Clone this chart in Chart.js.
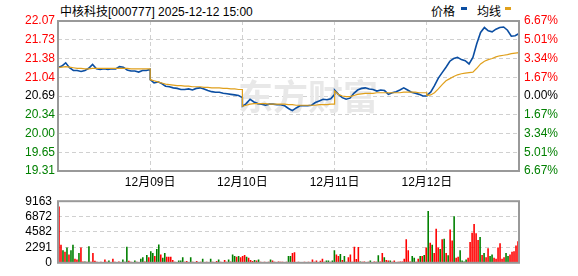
<!DOCTYPE html>
<html>
<head>
<meta charset="utf-8">
<script src="https://cdn.jsdelivr.net/npm/chart.js@4.4.1/dist/chart.umd.min.js"></script>
<style>
  body { margin: 0; background: #fff; width: 578px; height: 276px; position: relative; overflow: hidden;
         font-family: "Liberation Sans", Arial, "Noto Sans CJK SC", sans-serif; font-size: 12px; color: #000; }
  #title { position: absolute; left: 60px; top: 2px; white-space: nowrap; }
  .lg { position: absolute; top: 2px; white-space: nowrap; }
  .sw { position: absolute; top: 7px; width: 6px; height: 3px; }
  canvas { position: absolute; left: 0; }
  #priceChart { top: 0; }
  #volChart { top: 188px; }
</style>
</head>
<body>
<div id="title">中核科技[000777] 2025-12-12 15:00</div>
<div class="lg" style="left:431px">价格</div>
<div class="sw" style="left:461px;background:#0b4ea2"></div>
<div class="lg" style="left:477px">均线</div>
<div class="sw" style="left:505px;background:#e0a01c"></div>
<canvas id="priceChart" width="578" height="189"></canvas>
<canvas id="volChart" width="578" height="88"></canvas>
<script>
// 5 trading days, one sample every 10 minutes (25 per day, 240 min per day)
const dayLabels = ['12月09日', '12月10日', '12月11日', '12月12日'];
const preClose = 20.69;

const priceDay1 = [21.21, 21.24, 21.30, 21.21, 21.16, 21.16, 21.14, 21.16, 21.20, 21.27, 21.19, 21.18, 21.19,
  21.18, 21.19, 21.19, 21.23, 21.22, 21.17, 21.15, 21.15, 21.13, 21.16, 21.16, 21.18];
const priceDay2 = [20.99, 20.93, 20.95, 20.92, 20.87, 20.86, 20.84, 20.83, 20.81, 20.81, 20.82, 20.80, 20.83,
  20.84, 20.82, 20.79, 20.77, 20.76, 20.76, 20.74, 20.73, 20.72, 20.71, 20.70, 20.66];
const priceDay3 = [20.50, 20.55, 20.63, 20.58, 20.55, 20.54, 20.52, 20.54, 20.54, 20.53, 20.53, 20.51, 20.46,
  20.42, 20.47, 20.51, 20.51, 20.51, 20.52, 20.57, 20.60, 20.63, 20.62, 20.64, 20.72];
const priceDay4 = [20.80, 20.72, 20.66, 20.63, 20.65, 20.74, 20.80, 20.83, 20.84, 20.82, 20.81, 20.78, 20.80,
  20.79, 20.72, 20.75, 20.77, 20.80, 20.84, 20.80, 20.76, 20.74, 20.72, 20.69, 20.69];
const priceDay5 = [20.70, 20.76, 20.88, 21.02, 21.12, 21.22, 21.33, 21.38, 21.40, 21.36, 21.34, 21.28, 21.40,
  21.65, 21.86, 21.95, 21.89, 21.87, 21.92, 21.95, 21.96, 21.90, 21.79, 21.80, 21.84];

const avgDay1 = [21.21, 21.22, 21.23, 21.22, 21.21, 21.20, 21.20, 21.19, 21.19, 21.20, 21.20, 21.20, 21.20,
  21.20, 21.20, 21.20, 21.20, 21.20, 21.20, 21.19, 21.19, 21.19, 21.19, 21.19, 21.19];
const avgDay2 = [20.99, 20.97, 20.95, 20.93, 20.91, 20.90, 20.89, 20.88, 20.88, 20.87, 20.87, 20.86, 20.86,
  20.86, 20.85, 20.85, 20.84, 20.84, 20.84, 20.83, 20.83, 20.82, 20.82, 20.81, 20.81];
const avgDay3 = [20.50, 20.52, 20.54, 20.55, 20.55, 20.55, 20.55, 20.54, 20.54, 20.54, 20.54, 20.54, 20.53,
  20.53, 20.52, 20.52, 20.52, 20.52, 20.52, 20.52, 20.53, 20.53, 20.53, 20.54, 20.54];
const avgDay4 = [20.78, 20.72, 20.69, 20.68, 20.68, 20.70, 20.72, 20.73, 20.74, 20.74, 20.74, 20.75, 20.75,
  20.75, 20.75, 20.75, 20.75, 20.75, 20.76, 20.76, 20.76, 20.76, 20.75, 20.75, 20.75];
const avgDay5 = [20.70, 20.71, 20.75, 20.82, 20.90, 20.97, 21.01, 21.05, 21.08, 21.10, 21.11, 21.12, 21.13,
  21.20, 21.28, 21.33, 21.36, 21.38, 21.41, 21.43, 21.44, 21.45, 21.47, 21.48, 21.49];

const priceTicks = ['19.31', '19.65', '20.00', '20.34', '20.69', '21.04', '21.38', '21.73', '22.07'];
const pctTicks = ['6.67%', '5.01%', '3.34%', '1.67%', '0.00%', '1.67%', '3.34%', '5.01%', '6.67%'];
const volTicks = ['0', '2291', '4582', '6872', '9163'];

// volume in small time buckets, negative = down (green), positive = up (red)
const volumes = [
  8384, 2685, -1860, 1650, -2270, 1240, -1860, -2685, 620, 500, -1445, 2270, 200, -200, 150, -2480,
  150, 1445, 300, 150, -120, 150, 120, 500, 150, -330, 120, 620, 150, -120, 200, 120, -500, -150,
  -2395, 300, 150, 120, -330, 150, 120, -620, -830, 200, -1160, 830,
  -1735, -1445, 1030, -2065, -2725, 1240, -750, -1445, 910, 910, 910, 400, 150, 120, -330, -330,
  -830, 150, 250, 120, -830, 150, 120, 250, 120, 150, -620, 120, 150, 120, -620, 150, 120, 250,
  -500, 150, 120, 410, 150, -500, 200, -1240, -1030, 910, -1030, 830,
  1030, 1160, -910, 750, 410, 250, -410, 330, -500, 150, 120, 150, 120, 150, -500, 330, 150, 120,
  200, 150, 150, 120, 150, -1030, -1030, 1445, 1570, 120, 150, 120, 120, 150, 120, 150, 120, 500,
  150, 330, 120, 290, 620, 150, -330, -330, 150, -330,
  -1860, 1240, 1030, -1320, 410, -1030, 150, 830, 1240, 150, 2395, 580, 2355, -200, 150, 200, 120,
  150, -330, 120, 200, 150, -1115, 200, 1445, -830, 410, 330, -330, 150, 330, 120, 150, 200, 200,
  620, 3510, 1860, 200, -1030, -750, 150, 620, -1030, 1030, -1160,
  2270, -7723, 2975, -2685, 1445, 5080, 2270, -2065, 3510, -3590, 1445, -1115, 4955, 3300, -6938,
  750, 910, -1860, -330, -200, -500, 750, 3100, 4460, 5780, 4380, 3385, -3840, 1160, -1445, 830,
  2150, -1030, -1240, 750, 620, 2270, 2890, 620, 830, -1445, -1030, 1240, 1650, 1735, 2560, 3220
];

const RED = '#ff0000';
const GREEN = '#008000';
const BLUE = '#0b4ea2';
const GOLD = '#e0a01c';
const FONT = { family: '"Liberation Sans", Arial, "Noto Sans CJK SC"', size: 12 };

function toPoints(days) {
  const pts = [];
  days.forEach((day, d) => {
    day.forEach((v, k) => pts.push({ x: d * 240 + k * 10, y: v }));
  });
  return pts;
}

function tickColor(i) {
  if (i < 4) return GREEN;
  if (i === 4) return '#000';
  return RED;
}

const frame = {
  id: 'frame',
  beforeDatasetsDraw(chart, args, opts) {
    if (!opts.watermark) return;
    const ctx = chart.ctx;
    ctx.save();
    ctx.fillStyle = '#e8e8e8';
    ctx.font = 'bold 35px "Noto Sans CJK SC"';
    ctx.textBaseline = 'middle';
    ctx.fillText('东方财富', 238, 97);
    ctx.restore();
  },
  afterDraw(chart) {
    const { ctx, chartArea: a } = chart;
    ctx.save();
    ctx.strokeStyle = '#999';
    ctx.lineWidth = 2;
    ctx.strokeRect(a.left, a.top, a.right - a.left, a.bottom - a.top);
    ctx.restore();
  }
};

const yMin = Number(priceTicks[0]);
const yMax = Number(priceTicks[priceTicks.length - 1]);
const evenTicks = (scale) => {
  scale.ticks = priceTicks.map((t, i) => ({ value: yMin + i * (yMax - yMin) / (priceTicks.length - 1) }));
};

new Chart(document.getElementById('priceChart'), {
  type: 'line',
  data: {
    datasets: [
      {
        label: '均线',
        data: toPoints([avgDay1, avgDay2, avgDay3, avgDay4, avgDay5]),
        borderColor: GOLD,
        borderWidth: 1.2,
        pointRadius: 0,
        tension: 0
      },
      {
        label: '价格',
        data: toPoints([priceDay1, priceDay2, priceDay3, priceDay4, priceDay5]),
        borderColor: BLUE,
        borderWidth: 1.6,
        pointRadius: 0,
        tension: 0
      }
    ]
  },
  options: {
    responsive: false,
    animation: false,
    events: [],
    layout: { padding: { top: 21, bottom: 0, left: 0, right: 0 } },
    plugins: { legend: { display: false }, tooltip: { enabled: false }, frame: { watermark: true } },
    scales: {
      x: {
        type: 'linear',
        min: 0,
        max: 1200,
        afterBuildTicks: (scale) => { scale.ticks = [240, 480, 720, 960].map(v => ({ value: v })); },
        afterFit: (scale) => { scale.height = 18; },
        ticks: { callback: (v, i) => dayLabels[i], color: '#000', font: FONT, padding: 4, maxRotation: 0, autoSkip: false },
        grid: { color: '#d0d0d0', drawTicks: false },
        border: { display: false, dash: [4, 3] }
      },
      y: {
        position: 'left',
        min: yMin,
        max: yMax,
        afterBuildTicks: evenTicks,
        afterFit: (scale) => { scale.width = 58; },
        ticks: { callback: (v, i) => priceTicks[i], color: (c) => tickColor(c.index), font: FONT, padding: 3 },
        grid: { color: '#d0d0d0', drawTicks: false },
        border: { display: false, dash: [4, 3] }
      },
      y2: {
        position: 'right',
        min: yMin,
        max: yMax,
        afterBuildTicks: evenTicks,
        afterFit: (scale) => { scale.width = 59; },
        ticks: { callback: (v, i) => pctTicks[i], color: (c) => tickColor(c.index), font: FONT, padding: 5 },
        grid: { display: false, drawTicks: false },
        border: { display: false }
      }
    }
  },
  plugins: [frame]
});

new Chart(document.getElementById('volChart'), {
  type: 'bar',
  data: {
    labels: volumes.map((v, i) => i),
    datasets: [{
      data: volumes.map(v => Math.abs(v)),
      backgroundColor: volumes.map(v => v < 0 ? GREEN : RED),
      borderWidth: 0,
      barPercentage: 0.8,
      categoryPercentage: 1
    }]
  },
  options: {
    responsive: false,
    animation: false,
    events: [],
    layout: { padding: { top: 8, bottom: 6, left: 0, right: 59 } },
    plugins: { legend: { display: false }, tooltip: { enabled: false } },
    scales: {
      x: { display: false, offset: true },
      y: {
        min: 0,
        max: Number(volTicks[volTicks.length - 1]),
        afterBuildTicks: (scale) => { scale.ticks = volTicks.map(t => ({ value: Number(t) })); },
        afterFit: (scale) => { scale.width = 58; },
        ticks: { callback: (v, i) => volTicks[i], color: '#000', font: FONT, padding: 6 },
        grid: { color: '#d0d0d0', drawTicks: false },
        border: { display: false, dash: [4, 3] }
      }
    }
  },
  plugins: [frame]
});
</script>
</body>
</html>
